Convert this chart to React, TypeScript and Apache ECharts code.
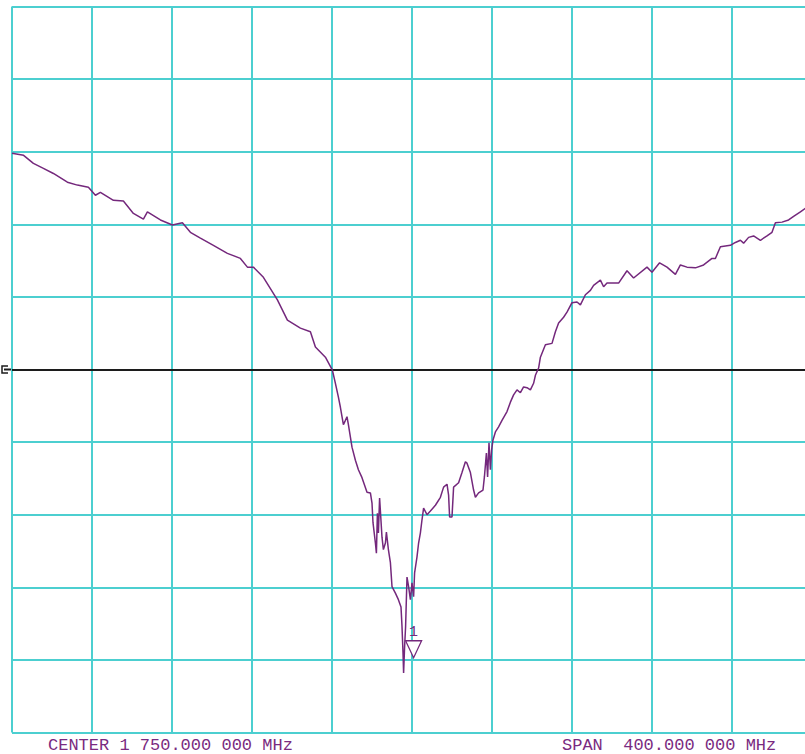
import React, { useEffect, useRef } from "react";
import * as echarts from "echarts";

// Frequency sweep: center 1750 MHz, span 400 MHz (40 MHz / div)
const freqMin = 1550;
const freqMax = 1950;
const freqStep = 40;

// Level scale: 10 dB / div, reference 0 dB at center
const levelMin = -50;
const levelMax = 50;
const levelStep = 10;
const refLevel = 0;

const traceFreqMHz = [
  1550.0, 1555.8, 1560.7, 1565.7, 1570.7, 1577.7, 1582.7, 1588.2, 1591.7, 1594.2,
  1600.7, 1605.7, 1610.7, 1615.7, 1617.7, 1624.2, 1630.2, 1635.2, 1639.2, 1644.2,
  1650.7, 1657.7, 1664.2, 1667.7, 1670.7, 1675.7, 1682.7, 1687.7, 1694.2, 1699.2,
  1701.7, 1706.7, 1710.2, 1711.7, 1713.2, 1714.2, 1715.0, 1715.7, 1716.7, 1717.5,
  1718.2, 1719.2, 1720.0, 1721.7, 1723.2, 1725.0, 1727.5, 1729.2, 1730.0, 1730.5,
  1731.7, 1732.2, 1732.7, 1733.2, 1733.8, 1735.0, 1735.7, 1736.7, 1737.2, 1738.2,
  1739.2, 1740.0, 1741.7, 1743.2, 1744.5, 1745.0, 1745.5, 1745.8, 1746.3, 1746.8,
  1747.5, 1748.3, 1749.2, 1750.0, 1750.8, 1751.3, 1752.5, 1753.3, 1754.2, 1755.0,
  1755.8, 1757.5, 1759.2, 1761.7, 1764.2, 1765.8, 1767.5, 1768.3, 1768.8, 1770.0,
  1770.8, 1773.3, 1775.0, 1776.7, 1777.5, 1779.2, 1780.8, 1781.7, 1783.3, 1785.5,
  1786.2, 1787.2, 1787.8, 1788.5, 1789.2, 1789.8, 1790.5, 1791.7, 1793.3, 1795.0,
  1797.5, 1799.2, 1800.8, 1802.5, 1804.2, 1805.8, 1807.5, 1809.2, 1810.8, 1811.7,
  1813.3, 1814.2, 1816.7, 1820.0, 1821.7, 1823.3, 1825.8, 1827.5, 1830.0, 1832.5,
  1834.2, 1836.7, 1839.2, 1840.8, 1844.2, 1845.8, 1847.5, 1853.3, 1857.5, 1860.8,
  1867.5, 1870.0, 1873.8, 1877.5, 1881.7, 1884.2, 1887.5, 1891.7, 1895.8, 1900.0,
  1901.7, 1904.2, 1909.2, 1911.7, 1914.2, 1915.8, 1918.3, 1920.8, 1924.2, 1927.5,
  1930.0, 1931.7, 1935.0, 1938.3, 1940.8, 1944.2, 1946.7, 1950.0,
];

const traceLevelDb = [
  29.8, 29.5, 28.4, 27.7, 27.0, 25.8, 25.4, 25.1, 24.0, 24.4,
  23.3, 23.2, 21.5, 20.7, 21.7, 20.6, 19.9, 20.2, 18.9, 18.1,
  17.1, 16.0, 15.3, 14.1, 14.1, 12.7, 9.6, 6.8, 5.7, 5.2,
  3.1, 1.7, -0.1, -1.9, -3.8, -5.2, -6.5, -7.6, -7.0, -6.5,
  -7.6, -9.3, -10.7, -12.5, -13.8, -14.9, -16.9, -17.0, -18.4, -21.1,
  -23.9, -25.3, -19.8, -22.5, -17.7, -23.1, -24.8, -23.9, -22.4, -24.8,
  -26.6, -29.9, -30.8, -31.7, -32.7, -35.4, -39.0, -41.8, -38.2, -35.4,
  -28.6, -29.9, -31.7, -29.4, -31.3, -28.0, -25.8, -23.9, -22.5, -20.7,
  -19.1, -20.0, -19.5, -18.7, -17.6, -16.2, -15.8, -17.3, -20.3, -20.3,
  -16.2, -15.6, -14.2, -12.7, -12.9, -14.2, -16.6, -17.6, -17.0, -16.6,
  -14.8, -11.5, -14.8, -10.1, -13.8, -11.1, -9.7, -8.6, -7.9, -7.0,
  -5.8, -4.5, -3.5, -2.8, -3.2, -2.4, -2.5, -2.8, -1.9, -0.8,
  0.2, 1.7, 3.4, 3.6, 5.2, 6.4, 7.2, 7.9, 9.2, 9.3,
  8.9, 10.3, 10.9, 11.6, 12.3, 11.4, 11.9, 11.9, 13.6, 12.6,
  14.1, 13.4, 14.7, 14.1, 13.1, 14.4, 14.1, 14.0, 14.4, 15.3,
  15.3, 16.9, 17.1, 17.5, 17.8, 17.4, 18.2, 18.4, 17.8, 18.4,
  18.9, 20.2, 20.3, 20.6, 21.1, 21.7, 22.2, 22.6,
];

// Marker 1
const markerLabel = "1";
const markerFreqMHz = 1750.8;
const markerLevelDb = -39.7;

const centerText = "CENTER 1 750.000 000 MHz";
const spanText = "SPAN  400.000 000 MHz";

const GRID_COLOR = "#4ccfd0";
const TRACE_COLOR = "#74287c";
const TEXT_COLOR = "#7a2a80";

export default function App() {
  const ref = useRef<HTMLDivElement>(null);

  useEffect(() => {
    if (!ref.current) return;
    const chart = echarts.init(ref.current, undefined, { renderer: "svg" });
    const data = traceFreqMHz.map((f, i) => [f, traceLevelDb[i]]);

    chart.setOption({
      animation: false,
      backgroundColor: "#ffffff",
      grid: { left: 12, right: 0, top: 6.5, bottom: 21.5, containLabel: false },
      xAxis: {
        type: "value",
        min: freqMin,
        max: freqMax,
        interval: freqStep,
        axisLine: { show: false },
        axisTick: { show: false },
        axisLabel: { show: false },
        splitLine: { show: true, lineStyle: { color: GRID_COLOR, width: 2 } },
      },
      yAxis: {
        type: "value",
        min: levelMin,
        max: levelMax,
        interval: levelStep,
        axisLine: { show: false },
        axisTick: { show: false },
        axisLabel: { show: false },
        splitLine: { show: true, lineStyle: { color: GRID_COLOR, width: 2 } },
      },
      series: [
        {
          type: "line",
          data,
          showSymbol: false,
          symbol: "none",
          lineStyle: { color: TRACE_COLOR, width: 1.5 },
          z: 5,
          markLine: {
            silent: true,
            symbol: ["none", "none"],
            label: { show: false },
            lineStyle: { color: "#1c1c1c", width: 2, type: "solid" },
            data: [{ yAxis: refLevel }],
            z: 4,
          },
          markPoint: {
            silent: true,
            data: [
              {
                coord: [markerFreqMHz, markerLevelDb],
                symbol: "path://M0,0 L16,0 L8,16 Z",
                symbolSize: [16, 17],
                symbolOffset: [0, "-50%"],
                itemStyle: { color: "#ffffff", borderColor: TRACE_COLOR, borderWidth: 1.3 },
                label: {
                  show: true,
                  formatter: markerLabel,
                  position: "top",
                  distance: 0,
                  color: TRACE_COLOR,
                  fontFamily: "Liberation Mono",
                  fontSize: 15,
                },
              },
            ],
          },
        },
      ],
      graphic: [
        {
          type: "polyline",
          shape: { points: [[8, 366], [2, 366], [2, 373], [8, 373]] },
          style: { stroke: "#1c1c1c", lineWidth: 1.5, fill: null },
        },
        {
          type: "line",
          shape: { x1: 4, y1: 369.5, x2: 12, y2: 369.5 },
          style: { stroke: "#1c1c1c", lineWidth: 2 },
        },
        {
          type: "text",
          left: 48,
          top: 737,
          style: {
            text: centerText,
            fill: TEXT_COLOR,
            font: "17px 'Liberation Mono', monospace",
          },
        },
        {
          type: "text",
          left: 562,
          top: 737,
          style: {
            text: spanText,
            fill: TEXT_COLOR,
            font: "17px 'Liberation Mono', monospace",
          },
        },
      ],
    });

    return () => chart.dispose();
  }, []);

  return (
    <div
      style={{
        position: "absolute",
        left: 0,
        top: 0,
        width: 805,
        height: 754,
        overflow: "hidden",
        background: "#fff",
      }}
    >
      <div ref={ref} style={{ width: 812, height: 754 }} />
    </div>
  );
}
